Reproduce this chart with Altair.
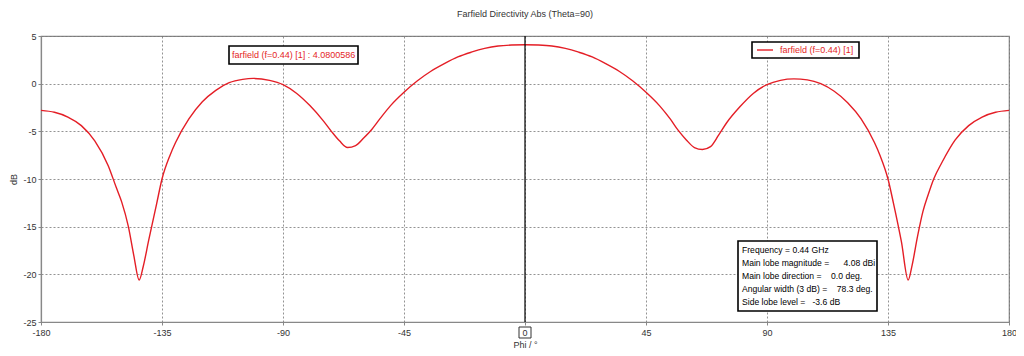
import altair as alt
import pandas as pd

# ---- data ----
phi_left = [-180, -175, -170, -165, -160, -155, -152, -150, -147.5, -145.5, -143.5,
            -142, -140, -137, -135, -132, -130, -125, -120, -115, -110, -105, -101,
            -95, -90, -85, -80, -75, -72, -69, -66, -63, -60, -57, -54, -50, -45,
            -40, -35, -30, -25, -20, -15, -10, -5, 0]
db_left = [-2.8, -3.0, -3.5, -4.4, -6.0, -8.6, -10.9, -12.4, -15.0, -18.0, -20.6,
           -19.2, -16.5, -12.6, -10.0, -7.5, -6.2, -3.7, -1.9, -0.7, 0.1, 0.45, 0.55,
           0.35, -0.1, -1.0, -2.3, -3.9, -5.0, -6.0, -6.7, -6.5, -5.7, -4.8, -3.7, -2.3, -0.9,
           0.3, 1.3, 2.1, 2.8, 3.3, 3.7, 3.95, 4.05, 4.08]
phi_right = [5, 10, 15, 20, 25, 30, 35, 40, 45, 50, 54, 57, 60, 63, 66, 69, 72, 75,
             80, 85, 90, 95, 100, 105, 110, 115, 120, 125, 130, 132, 135, 137, 140,
             142.5, 144, 146, 148, 150, 152, 155, 160, 165, 170, 175, 180]
db_right = [4.05, 3.95, 3.7, 3.3, 2.8, 2.1, 1.3, 0.3, -0.9, -2.3, -3.7, -4.9, -5.9,
            -6.7, -6.9, -6.6, -5.4, -4.1, -2.4, -1.0, -0.1, 0.35, 0.5, 0.4, 0.0, -0.8,
            -2.0, -3.7, -6.2, -7.5, -10.0, -12.5, -16.6, -20.6, -19.0, -16.0, -13.4,
            -11.6, -10.0, -8.3, -5.9, -4.4, -3.5, -3.0, -2.8]

x_ticks = [-180, -135, -90, -45, 0, 45, 90, 135, 180]
y_ticks = [-25, -20, -15, -10, -5, 0, 5]

title_text = "Farfield Directivity Abs (Theta=90)"
series_name = "farfield (f=0.44) [1]"
marker_text = "farfield (f=0.44) [1] : 4.0800586"
NB = "\u00a0"
info_lines = [
    "Frequency = 0.44 GHz",
    "Main lobe magnitude =" + NB * 6 + "4.08 dBi",
    "Main lobe direction =" + NB * 4 + "0.0 deg.",
    "Angular width (3 dB) =" + NB * 4 + "78.3 deg.",
    "Side lobe level =" + NB * 3 + "-3.6 dB",
]

RED = "#e41e26"
FONT = "Liberation Sans"
W, H = 968, 286

df = pd.DataFrame({"phi": phi_left + phi_right, "db": db_left + db_right})

xscale = alt.Scale(domain=[-180, 180], nice=False, zero=False)
yscale = alt.Scale(domain=[-25, 5], nice=False, zero=False)

line = alt.Chart(df).mark_line(color=RED, strokeWidth=1.4, interpolate="monotone").encode(
    x=alt.X("phi:Q", scale=xscale,
            axis=alt.Axis(values=x_ticks, title="Phi / °", labelExpr="'' + datum.value",
                          labelFlush=False)),
    y=alt.Y("db:Q", scale=yscale,
            axis=alt.Axis(values=y_ticks, title="dB", labelExpr="'' + datum.value")),
)

zero = pd.DataFrame({"phi": [0]})
zero_rule = alt.Chart(zero).mark_rule(color="black", strokeWidth=1.2).encode(x=alt.X("phi:Q", scale=xscale))

one = pd.DataFrame({"k": [0]})

# boxed "0" tick label
zero_box = alt.Chart(one).mark_rect(fill="white", stroke="#333", strokeWidth=1).encode(
    x=alt.value(478), x2=alt.value(490), y=alt.value(H + 5), y2=alt.value(H + 16))
zero_lbl = alt.Chart(one).mark_text(font=FONT, fontSize=9, color="#333").encode(
    x=alt.value(484), y=alt.value(H + 10.5), text=alt.value("0"))

# marker annotation
ann_box = alt.Chart(one).mark_rect(fill="white", stroke="black", strokeWidth=1.6).encode(
    x=alt.value(188), x2=alt.value(317), y=alt.value(10), y2=alt.value(28))
ann_txt = alt.Chart(one).mark_text(font=FONT, fontSize=9, color=RED, align="left").encode(
    x=alt.value(191), y=alt.value(19), text=alt.value(marker_text))

# legend
leg_box = alt.Chart(one).mark_rect(fill="white", stroke="black", strokeWidth=1.6).encode(
    x=alt.value(711), x2=alt.value(818), y=alt.value(6), y2=alt.value(22))
leg_line = alt.Chart(one).mark_rule(color=RED, strokeWidth=1.4).encode(
    x=alt.value(716), x2=alt.value(732), y=alt.value(14))
leg_txt = alt.Chart(one).mark_text(font=FONT, fontSize=9, color=RED, align="left").encode(
    x=alt.value(739), y=alt.value(14), text=alt.value(series_name))

# info box
info_df = pd.DataFrame({"lab": info_lines, "row": list(range(len(info_lines)))})
info_box = alt.Chart(one).mark_rect(fill="white", stroke="black", strokeWidth=1.6).encode(
    x=alt.value(697), x2=alt.value(836), y=alt.value(205), y2=alt.value(275))
row_scale = alt.Scale(domain=[-0.5, 4.5], range=[208, 272])
info_lab = alt.Chart(info_df).mark_text(font=FONT, fontSize=8.6, color="black", align="left").encode(
    x=alt.value(701),
    y=alt.Y("row:Q", scale=row_scale, axis=None),
    text="lab:N")

chart = alt.layer(
    line, zero_rule, zero_box, zero_lbl, ann_box, ann_txt, leg_box, leg_line, leg_txt,
    info_box, info_lab
).resolve_scale(y="independent").properties(
    width=W, height=H,
    autosize=alt.AutoSizeParams(type="none"),
    padding={"left": 33, "top": 28, "right": 7, "bottom": 26},
    title=alt.TitleParams(title_text, font=FONT, fontSize=9, fontWeight="normal",
                          color="#333", offset=13, anchor="middle"),
).configure_view(stroke="#888", strokeWidth=1.2).configure_axis(
    labelFont=FONT, labelFontSize=9, labelColor="#333",
    titleFont=FONT, titleFontSize=9, titleFontWeight="normal", titleColor="#333",
    grid=True, gridColor="#777", gridDash=[2, 2], gridWidth=0.8,
    domainColor="#888", domainWidth=1.2, tickColor="#888", tickSize=3,
).configure_axisX(labelPadding=3, titlePadding=3).configure_axisY(
    labelPadding=2, titlePadding=4)

chart.save("out.html", embed_options={"renderer": "svg", "actions": False})
